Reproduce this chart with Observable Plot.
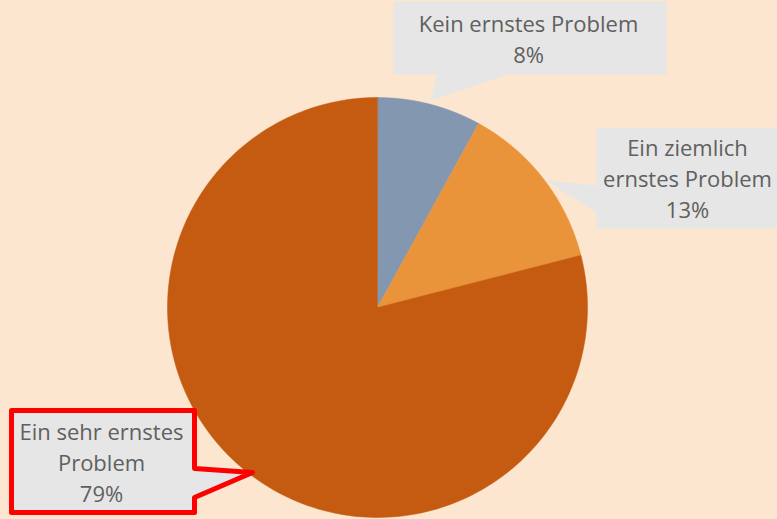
<!DOCTYPE html>
<html>
<head>
<meta charset="utf-8">
<script src="https://cdn.jsdelivr.net/npm/d3@7"></script>
<script src="https://cdn.jsdelivr.net/npm/@observablehq/plot@0.6"></script>
<style>
  html, body { margin: 0; padding: 0; background: #FCE6CF; }
  #chart { width: 777px; height: 519px; overflow: hidden; }
</style>
</head>
<body>
<div id="chart"></div>
<script>
// ---- data ----
const categories = ["Kein ernstes Problem", "Ein ziemlich ernstes Problem", "Ein sehr ernstes Problem"];
const values = [8, 13, 79];
const labelLines = [
  ["Kein ernstes Problem", "8%"],
  ["Ein ziemlich", "ernstes Problem", "13%"],
  ["Ein sehr ernstes", "Problem", "79%"]
];

// ---- styles ----
const colors = ["#8497B0", "#E9943A", "#C55A11"];
const W = 777, H = 519;
const cx = 377, cy = 307, R = 210;

// callout layout (pixel frame)
const callouts = [
  { tx: 528, ty: 24,
    shape: [[393,1],[666,1],[666,74],[507,74],[430,100],[437,74],[393,74]],
    stroke: "none" },
  { tx: 687, ty: 148,
    shape: [[596,127],[790,127],[790,228],[596,228],[596,212],[545,180],[596,185]],
    stroke: "none" },
  { tx: 101, ty: 432,
    shape: [[11,410],[194,410],[194,468],[252,472],[194,497],[194,512],[11,512]],
    stroke: "#FF0000" }
];

// ---- pie geometry ----
const arcs = d3.pie().sort(null).value(d => d)(values);
const slicePts = [];
arcs.forEach((a, i) => {
  const n = 200;
  slicePts.push({ x: cx, y: cy, k: i });
  for (let j = 0; j <= n; j++) {
    const t = a.startAngle + (a.endAngle - a.startAngle) * j / n;
    slicePts.push({ x: cx + R * Math.sin(t), y: cy - R * Math.cos(t), k: i });
  }
});

const calloutPts = [];
callouts.forEach((c, i) => c.shape.forEach(([x, y]) => calloutPts.push({ x, y, k: i })));

const textRows = [];
callouts.forEach((c, i) => {
  labelLines[i].forEach((s, j) => textRows.push({ x: c.tx, y: c.ty + j * 31, s }));
});

const plot = Plot.plot({
  width: W, height: H,
  margin: 0,
  x: { domain: [0, W], range: [0, W], axis: null },
  y: { domain: [0, H], range: [0, H], axis: null },
  style: { background: "#FCE6CF", overflow: "hidden" },
  marks: [
    Plot.line(slicePts, { x: "x", y: "y", z: "k", curve: "linear-closed",
      fill: d => colors[d.k], stroke: d => colors[d.k], strokeWidth: 0.5 }),
    Plot.line(calloutPts, { x: "x", y: "y", z: "k", curve: "linear-closed",
      fill: "#E6E6E6", stroke: d => callouts[d.k].stroke,
      strokeWidth: 5, strokeLinejoin: "round" }),
    Plot.text(textRows, { x: "x", y: "y", text: "s", fill: "#606060",
      fontSize: 22, fontFamily: "'Open Sans', Lato, sans-serif", textAnchor: "middle" })
  ]
});
document.getElementById("chart").appendChild(plot);
</script>
</body>
</html>
